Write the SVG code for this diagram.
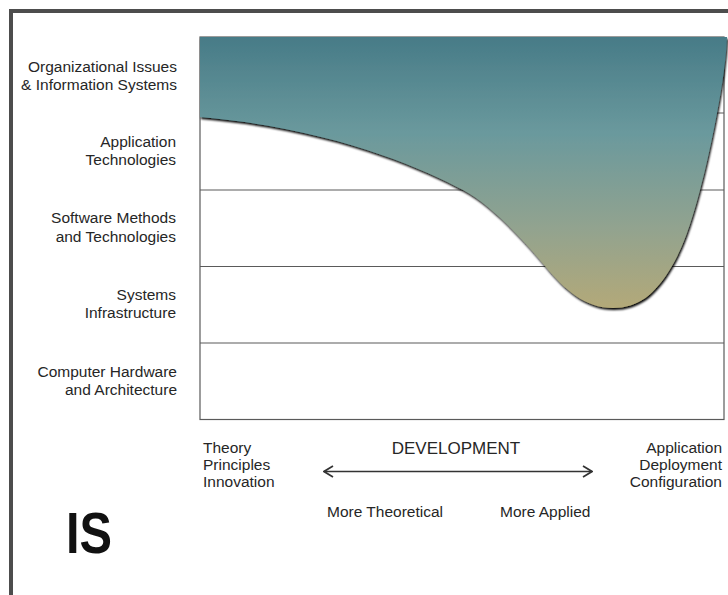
<svg xmlns="http://www.w3.org/2000/svg" width="728" height="595" viewBox="0 0 728 595">
  <defs>
    <linearGradient id="band" x1="0" y1="37" x2="0" y2="310" gradientUnits="userSpaceOnUse">
      <stop offset="0" stop-color="#477b87"/>
      <stop offset="0.35" stop-color="#6a999d"/>
      <stop offset="0.7" stop-color="#92a38f"/>
      <stop offset="1" stop-color="#b4a978"/>
    </linearGradient>
    <filter id="shadow" x="-5%" y="-5%" width="115%" height="115%">
      <feGaussianBlur in="SourceAlpha" stdDeviation="1.3"/>
      <feOffset dx="1" dy="2" result="b"/>
      <feComponentTransfer><feFuncA type="linear" slope="1"/></feComponentTransfer>
      <feMerge><feMergeNode/><feMergeNode in="SourceGraphic"/></feMerge>
    </filter>
    <marker id="chev" viewBox="0 0 11 13" refX="10" refY="6.5" markerWidth="11" markerHeight="13" markerUnits="userSpaceOnUse" orient="auto-start-reverse">
      <path d="M1,1 L10,6.5 L1,12" fill="none" stroke="#333" stroke-width="1.7"/>
    </marker>
    <style>
      .lbl { font-family: "Liberation Sans", Arial, sans-serif; font-size: 15.5px; fill: #262626; }
      .r { text-anchor: end; }
      .grid { stroke: #5a5a5a; stroke-width: 1.2; fill: none; }
    </style>
  </defs>

  <rect x="0" y="0" width="728" height="595" fill="#ffffff"/>
  <g id="frame">
    <rect x="11" y="11" width="800" height="700" fill="#ffffff" stroke="#4d4d4d" stroke-width="4"/>
  </g>

  <g id="chart">
    <rect class="grid" x="200" y="37" width="524" height="382.5"/>
    <line class="grid" x1="200" y1="113" x2="724" y2="113"/>
    <line class="grid" x1="200" y1="190" x2="724" y2="190"/>
    <line class="grid" x1="200" y1="266.5" x2="724" y2="266.5"/>
    <line class="grid" x1="200" y1="343" x2="724" y2="343"/>
  </g>

  <g id="band-area">
    <path filter="url(#shadow)" fill="url(#band)" d="M200,37 L727,37 C726,60 722,87 717,113 C710,150 705,171 700,190 C690,227 683,247 672,266 C655,295 638,308 613,308 C585,308 565,290 545,266 C520,236 490,204.4 463,190 C420,167 330,128 200,117 Z"/>
  </g>

  <g id="row-labels">
    <g id="row-org"><text class="lbl r" x="177" y="72">Organizational Issues</text><text class="lbl r" x="177" y="90">&amp; Information Systems</text></g>
    <g id="row-app"><text class="lbl r" x="176" y="147">Application</text><text class="lbl r" x="176" y="165">Technologies</text></g>
    <g id="row-sw"><text class="lbl r" x="176" y="223">Software Methods</text><text class="lbl r" x="176" y="241.5">and Technologies</text></g>
    <g id="row-sys"><text class="lbl r" x="176" y="300">Systems</text><text class="lbl r" x="176" y="318">Infrastructure</text></g>
    <g id="row-hw"><text class="lbl r" x="177" y="376.5">Computer Hardware</text><text class="lbl r" x="177" y="395">and Architecture</text></g>
  </g>

  <g id="axis-left"><text class="lbl" x="203" y="453">Theory</text><text class="lbl" x="203" y="470">Principles</text><text class="lbl" x="203" y="487">Innovation</text></g>
  <g id="axis-title"><text class="lbl" x="456" y="454" text-anchor="middle" style="font-size:17px">DEVELOPMENT</text></g>
  <g id="axis-right"><text class="lbl r" x="722" y="453">Application</text><text class="lbl r" x="722" y="470">Deployment</text><text class="lbl r" x="722" y="487">Configuration</text></g>
  <g id="axis-ends"><text class="lbl" x="327" y="517">More Theoretical</text><text class="lbl" x="500" y="517">More Applied</text></g>

  <g id="connectors">
    <line x1="324" y1="471.5" x2="592" y2="471.5" stroke="#333" stroke-width="1.6" marker-start="url(#chev)" marker-end="url(#chev)"/>
  </g>

  <g id="title"><text x="66" y="553" textLength="46" lengthAdjust="spacingAndGlyphs" style="font-family:'Liberation Sans', Arial, sans-serif; font-weight:bold; font-size:57px; fill:#111">IS</text></g>
</svg>
